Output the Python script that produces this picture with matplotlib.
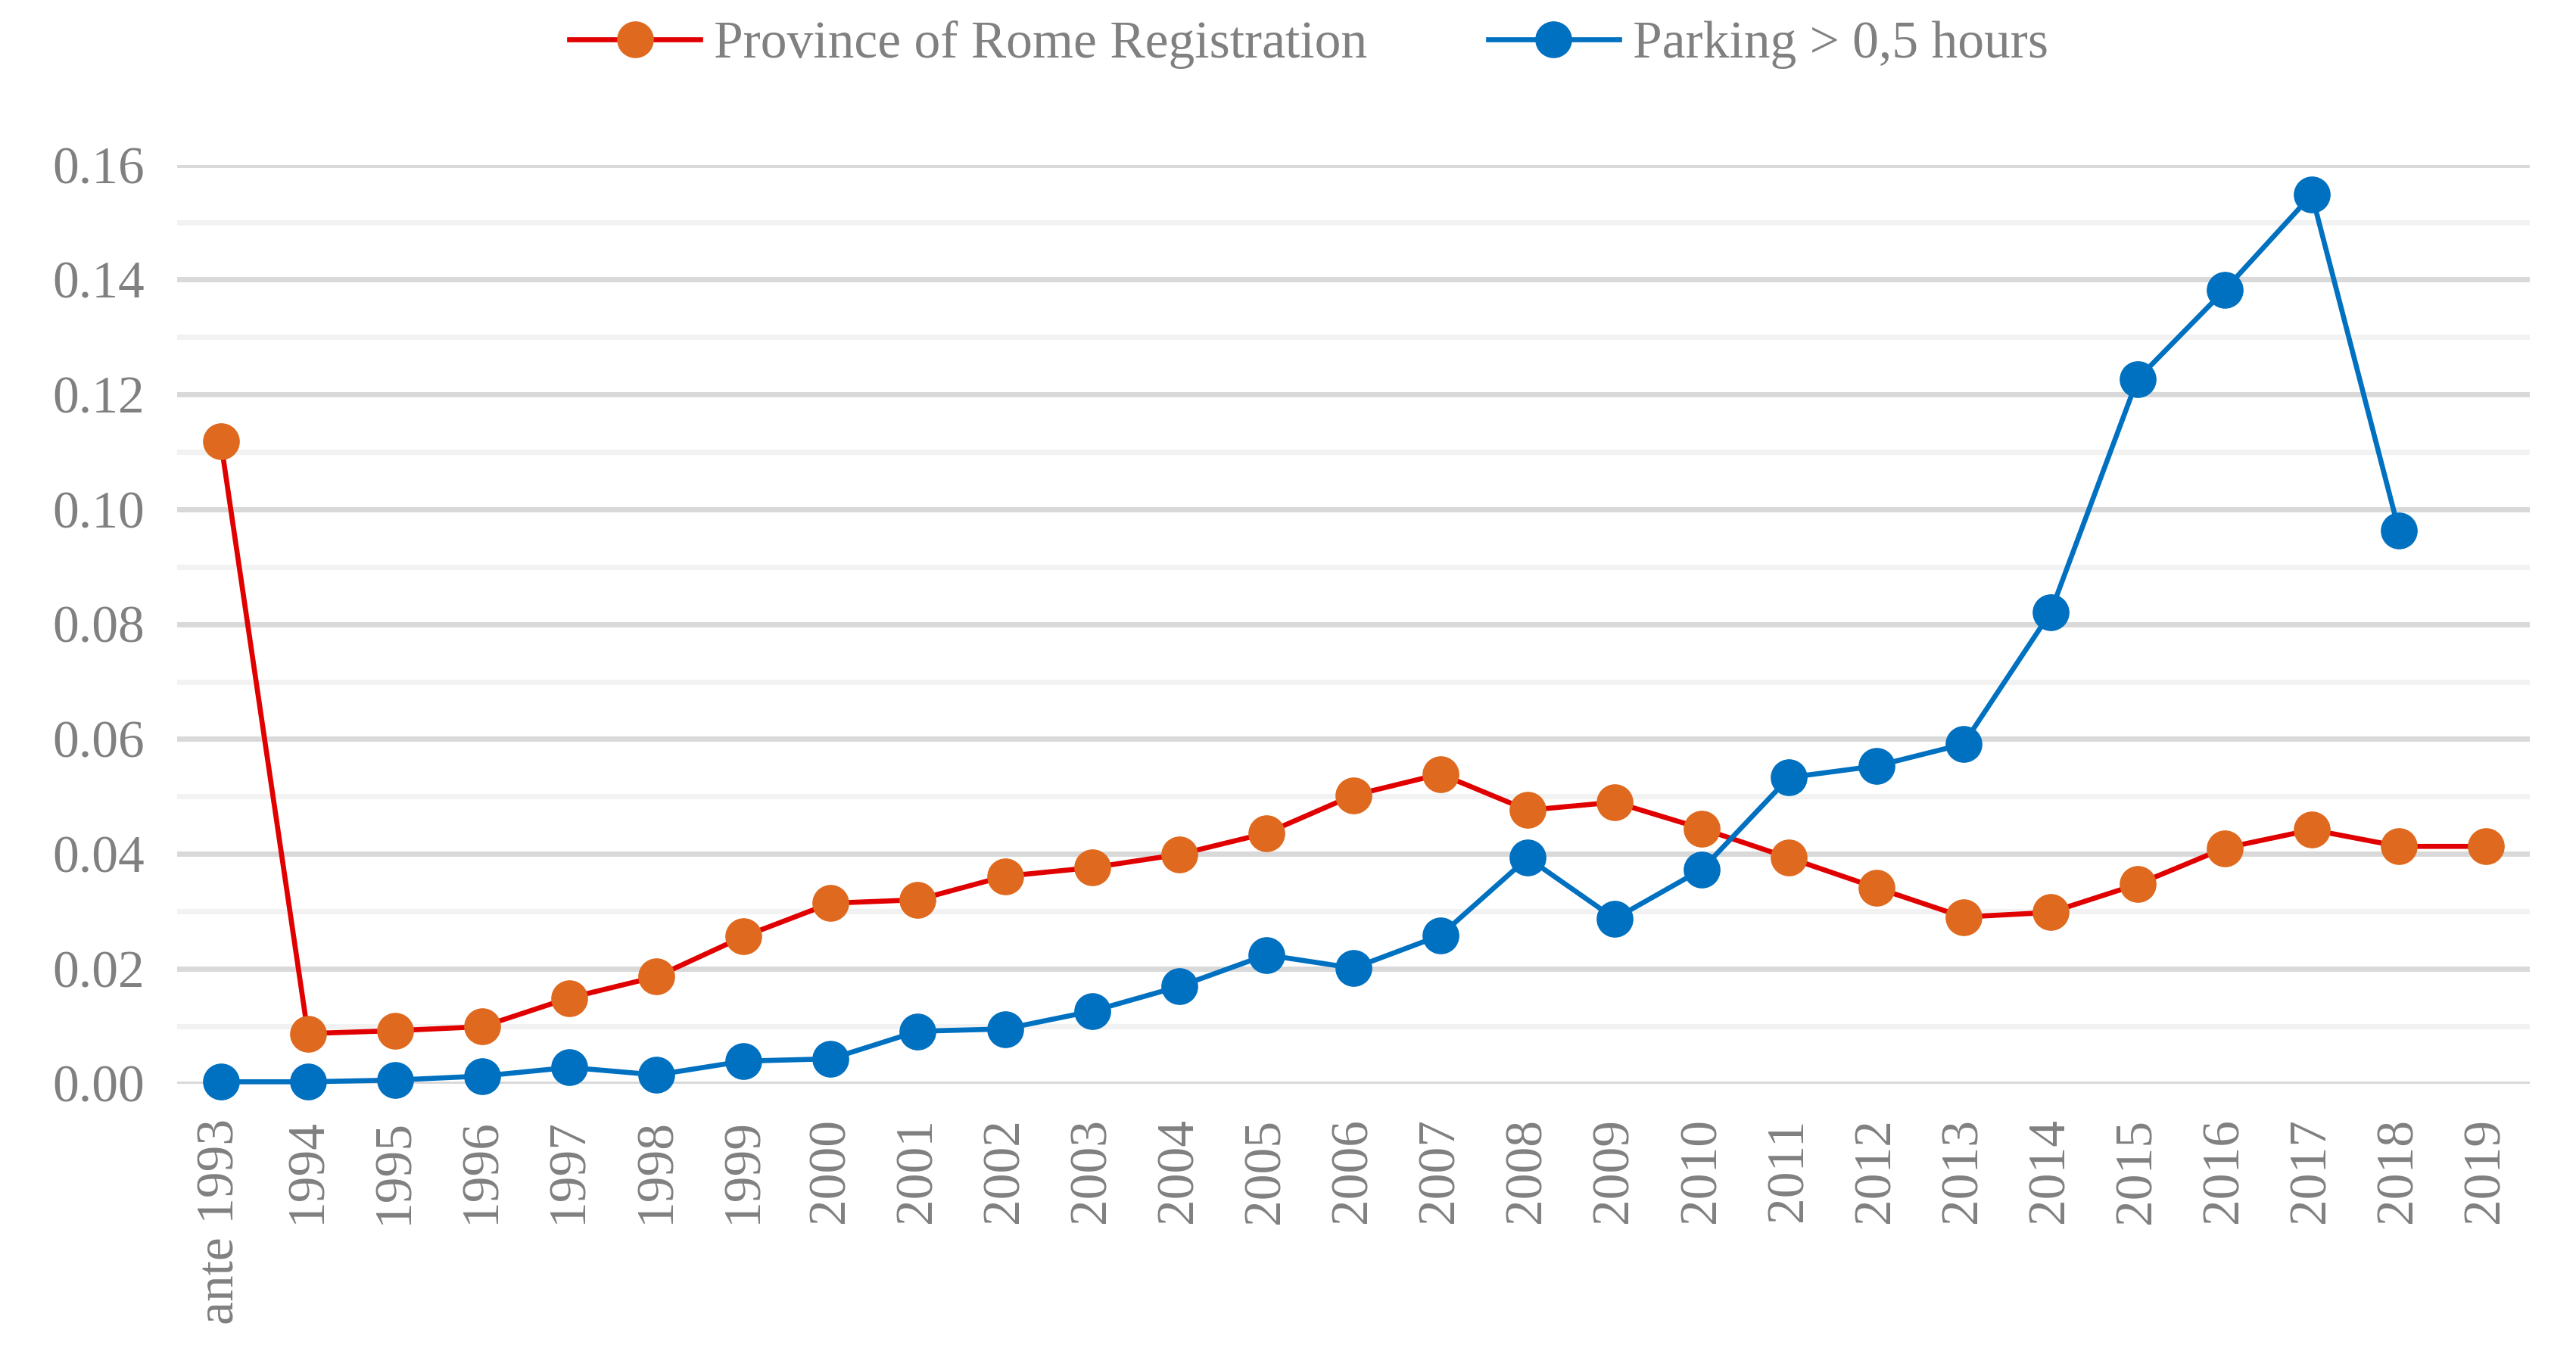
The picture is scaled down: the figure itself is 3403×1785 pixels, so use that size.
import numpy as np
import matplotlib
matplotlib.use("Agg")
import matplotlib.pyplot as plt
from matplotlib.ticker import MultipleLocator

years = ["ante 1993"] + [str(y) for y in range(1994, 2020)]

# share of vehicles
rome_reg = [0.1118, 0.0087, 0.0092, 0.0099, 0.0149, 0.0186, 0.0256, 0.0314,
            0.0320, 0.0361, 0.0376, 0.0399, 0.0436, 0.0502, 0.0539, 0.0476,
            0.0490, 0.0444, 0.0393, 0.0341, 0.0290, 0.0298, 0.0347, 0.0410,
            0.0442, 0.0413, 0.0413]
parking = [0.0003, 0.0003, 0.0006, 0.0013, 0.0028, 0.0015, 0.0039, 0.0043,
           0.0091, 0.0095, 0.0126, 0.0169, 0.0224, 0.0201, 0.0258, 0.0393,
           0.0287, 0.0373, 0.0533, 0.0553, 0.0591, 0.0820, 0.1227, 0.1382,
           0.1548, 0.0963, np.nan]

grey = "#808080"
plt.rcParams["font.family"] = ["Liberation Serif", "DejaVu Serif"]

fig = plt.figure(figsize=(34.03, 17.85), dpi=100)
ax = fig.add_axes([0.0688, 0.198, 0.9132, 0.68])

x = np.arange(len(years))
ax.plot(x, rome_reg, color="#E00000", lw=4.8, marker="o", ms=34,
        mfc="#DF691E", mec="#DF691E", clip_on=False, zorder=3,
        label="Province of Rome Registration")
ax.plot(x, parking, color="#0070C0", lw=4.8, marker="o", ms=34,
        mfc="#0070C0", mec="#0070C0", clip_on=False, zorder=3,
        label="Parking > 0,5 hours")

ax.set_xlim(-0.5, len(years) - 0.5)
ax.set_ylim(0, 0.16)
ax.yaxis.set_major_locator(MultipleLocator(0.02))
ax.yaxis.set_minor_locator(MultipleLocator(0.01))
ax.yaxis.set_major_formatter(plt.FuncFormatter(lambda v, p: f"{v:.2f}"))
ax.grid(axis="y", which="major", color="#D9D9D9", lw=5, zorder=0)
ax.grid(axis="y", which="minor", color="#F2F2F2", lw=5, zorder=0)
ax.set_axisbelow(True)

ax.set_xticks(x)
ax.set_xticklabels(years, rotation=90)
ax.tick_params(axis="both", which="both", length=0, labelsize=50, labelcolor=grey)
ax.tick_params(axis="y", pad=31)
ax.tick_params(axis="x", pad=33)
for s in ax.spines.values():
    s.set_visible(False)

fig.legend(loc="center", bbox_to_anchor=(0.508, 0.967), ncol=2, frameon=False,
           fontsize=50, labelcolor=grey, handlelength=2.5, handletextpad=0.25,
           columnspacing=2.3, markerscale=1.0)

fig.savefig("out.png", dpi=100)
